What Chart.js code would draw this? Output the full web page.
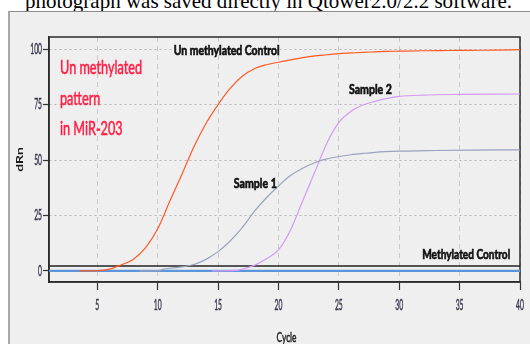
<!DOCTYPE html>
<html>
<head>
<meta charset="utf-8">
<script src="https://cdn.jsdelivr.net/npm/chart.js@4.4.1/dist/chart.umd.min.js"></script>
<style>
  html, body { margin: 0; padding: 0; background: #fff; }
  #wrap { position: relative; width: 530px; height: 344px; overflow: hidden; }
  #caption {
    position: absolute; left: 25px; top: -9px; white-space: nowrap;
    font: 21px/21px "Liberation Serif", "Times New Roman", serif; color: #000;
  }
  #panel {
    position: absolute; left: 8px; top: 11px; width: 522px; height: 333px;
    background: #efefef; border-left: 2px solid #a8a8a8; border-top: 1px solid #8c8c8c;
    box-sizing: border-box;
  }
  #qpcr { position: absolute; left: 0; top: 0; }
</style>
</head>
<body>
<div id="wrap">
  <div id="caption">photograph was saved directly in Qtower2.0/2.2 software.</div>
  <div id="panel"></div>
  <canvas id="qpcr" width="530" height="344"></canvas>
</div>
<script>
// amplification curves (cycle -> dRn)
const unmethCycles = [3.5, 4, 5, 6, 7, 8, 9, 10, 11, 12, 13, 14, 15, 16, 17, 18, 19, 20, 21, 22, 23, 24, 25, 26, 27, 28, 29, 30, 32, 34, 36, 38, 40];
const unmethValues = [0, 0, 0.1, 0.8, 2.8, 5.3, 10.5, 19, 31.4, 43.5, 56, 66.5, 75, 82.3, 87.8, 91.2, 93, 94.1, 95.2, 96.2, 97, 97.5, 98, 98.3, 98.6, 98.8, 99, 99.1, 99.3, 99.4, 99.5, 99.6, 99.8];

const sample1Cycles = [8.5, 10, 10.5, 12, 13, 14, 15, 16, 17, 18, 19, 20, 21, 22, 23, 24, 25, 26, 27, 28, 30, 33, 36, 40];
const sample1Values = [0, 0.1, 0.8, 1.8, 2.9, 5.2, 8.7, 13.5, 19.5, 26.8, 33, 38.3, 43, 46.3, 48.8, 50.5, 51.6, 52.4, 53, 53.5, 54, 54.3, 54.5, 54.6];

const sample2Cycles = [14.5, 16.5, 17, 18, 19, 20, 21, 22, 23, 24, 25, 26, 27, 28, 29, 30, 32, 35, 40];
const sample2Values = [0, 0.2, 0.8, 2.5, 5.5, 9.5, 18.5, 31.5, 44.5, 57.5, 67, 72, 74.8, 76.5, 77.8, 78.7, 79.3, 79.6, 79.8];

const methCycles = [1, 40];
const methValues = [0, 0];

const thresholdCycles = [1, 40];
const thresholdValues = [2.2, 2.2];

const xTickValues = [5, 10, 15, 20, 25, 30, 35, 40];
const yTickValues = [0, 25, 50, 75, 100];

const curveNames = ['Un methylated Control', 'Sample 1', 'Sample 2', 'Methylated Control', 'Threshold'];
const xTitle = 'Cycle';
const yTitle = 'dRn';

// text written inside the plot: left end of the baseline, in data coordinates, plus drawn width
const plotNotes = [
  { text: 'Un methylated Control', x: 11.32, y: 97.4, w: 106 },
  { text: 'Sample 2', x: 25.84, y: 79.9, w: 43 },
  { text: 'Sample 1', x: 16.3, y: 37.3, w: 43 },
  { text: 'Methylated Control', x: 31.9, y: 5.5, w: 88 }
];
const sideNote = ['Un methylated', 'pattern', 'in MiR-203'];

function pairs(xs, ys) {
  return xs.map((x, i) => ({ x: x, y: ys[i] }));
}

const FONT = 'Lato, "Open Sans", sans-serif';

// the screenshot is squeezed sideways, so text is drawn with a horizontal scale
// (a thin stroke in the fill colour makes it as heavy as the original)
function squeezed(ctx, text, x, y, sx, align, heavy) {
  ctx.save();
  ctx.translate(x, y);
  ctx.scale(sx, 1);
  ctx.textAlign = align;
  ctx.fillText(text, 0, 0);
  if (heavy) {
    ctx.strokeStyle = ctx.fillStyle;
    ctx.lineWidth = heavy;
    ctx.strokeText(text, 0, 0);
  }
  ctx.restore();
}

const framePlugin = {
  id: 'frame',
  beforeDatasetsDraw(chart) {
    const a = chart.chartArea, ctx = chart.ctx;
    ctx.save();
    ctx.strokeStyle = '#2b2b2b';
    ctx.lineWidth = 1.5;
    ctx.strokeRect(a.left, a.top, a.right - a.left, a.bottom - a.top);
    ctx.restore();
  },
  afterDatasetsDraw(chart) {
    const ctx = chart.ctx, xs = chart.scales.x, ys = chart.scales.y, a = chart.chartArea;
    ctx.save();

    // tick labels from the scales
    ctx.fillStyle = '#3c3c52';
    ctx.font = '15px ' + FONT;
    ctx.textBaseline = 'middle';
    ys.ticks.forEach(t => squeezed(ctx, String(t.value), a.left - 7, ys.getPixelForValue(t.value), 0.45, 'right', 0.5));
    xs.ticks.forEach(t => squeezed(ctx, String(t.value), xs.getPixelForValue(t.value), a.bottom + 23, 0.45, 'center', 0.5));

    // axis titles
    ctx.textBaseline = 'alphabetic';
    ctx.fillStyle = '#1a1a1a';
    ctx.font = '14px ' + FONT;
    let sx = 20 / ctx.measureText(xTitle).width;
    squeezed(ctx, xTitle, (a.left + a.right) / 2 + 2, 342, sx, 'center', 0.5);

    ctx.font = 'bold 14px ' + FONT;
    ctx.save();
    ctx.translate(20, (a.top + a.bottom) / 2);
    ctx.scale(0.7, 1);
    ctx.rotate(-Math.PI / 2);
    ctx.textAlign = 'center';
    ctx.textBaseline = 'middle';
    ctx.fillText(yTitle, 0, 0);
    ctx.restore();

    // labels on the curves
    ctx.fillStyle = '#111';
    ctx.font = 'bold 14px ' + FONT;
    plotNotes.forEach(n => {
      const k = n.w / ctx.measureText(n.text).width;
      squeezed(ctx, n.text, xs.getPixelForValue(n.x), ys.getPixelForValue(n.y), k, 'left', 0.7);
    });

    // red note top-left
    ctx.fillStyle = '#ff1f45';
    ctx.font = '20px ' + FONT;
    sx = 82 / ctx.measureText(sideNote[0]).width;
    sideNote.forEach((line, i) => squeezed(ctx, line, 60, 74 + i * 30.5, sx, 'left', 0.6));
    ctx.restore();
  }
};

new Chart(document.getElementById('qpcr'), {
  type: 'line',
  data: {
    datasets: [{
      label: curveNames[0],
      data: pairs(unmethCycles, unmethValues),
      borderColor: '#ff5a24',
      borderWidth: 1.2
    }, {
      label: curveNames[1],
      data: pairs(sample1Cycles, sample1Values),
      borderColor: '#9aa3bd',
      borderWidth: 1.2
    }, {
      label: curveNames[2],
      data: pairs(sample2Cycles, sample2Values),
      borderColor: '#d39af5',
      borderWidth: 1.2
    }, {
      label: curveNames[3],
      data: pairs(methCycles, methValues),
      borderColor: '#5b96dc',
      borderWidth: 2.2,
      cubicInterpolationMode: 'default',
      tension: 0
    }, {
      label: curveNames[4],
      data: pairs(thresholdCycles, thresholdValues),
      borderColor: '#222',
      borderWidth: 1.5,
      cubicInterpolationMode: 'default',
      tension: 0
    }]
  },
  options: {
    responsive: false,
    animation: false,
    events: [],
    cubicInterpolationMode: 'monotone',
    elements: { point: { radius: 0 } },
    layout: { padding: { left: 9, right: 10, top: 37, bottom: 0 } },
    plugins: { legend: { display: false }, tooltip: { enabled: false } },
    scales: {
      x: {
        type: 'linear',
        min: 1,
        max: 40,
        afterBuildTicks: s => { s.ticks = xTickValues.map(v => ({ value: v })); },
        afterFit: s => { s.height = 62; },
        grid: {
          color: '#c9c9c9',
          lineWidth: 1,
          tickColor: '#333',
          tickLength: 8,
          tickWidth: 1.2
        },
        border: { color: '#2b2b2b', width: 1.5, dash: [5, 4] },
        ticks: { display: false }
      },
      y: {
        min: -5,
        max: 105.5,
        afterBuildTicks: s => { s.ticks = yTickValues.map(v => ({ value: v })); },
        afterFit: s => { s.width = 40; },
        grid: {
          color: c => (c.tick && c.tick.value === 0) ? 'rgba(0,0,0,0)' : '#b5b5b5',
          lineWidth: 1,
          tickColor: '#333',
          tickLength: 6,
          tickWidth: 1.2
        },
        border: { color: '#2b2b2b', width: 1.5, dash: [2, 3] },
        ticks: { display: false }
      }
    }
  },
  plugins: [framePlugin]
});
</script>
</body>
</html>
